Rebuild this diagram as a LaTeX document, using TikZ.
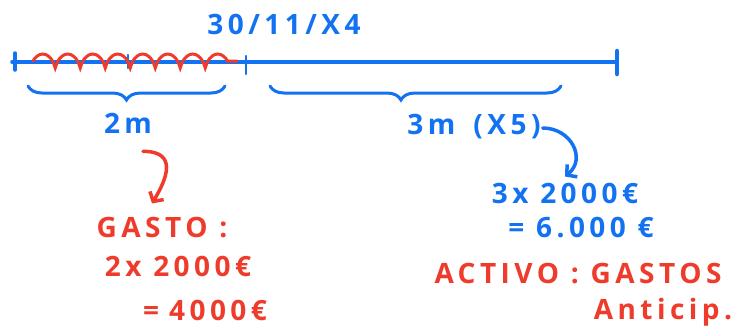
\documentclass[tikz,border=0pt]{standalone}
\usepackage{fontspec}
\newfontfamily\handfont[LetterSpace=16]{Open Sans}
\usetikzlibrary{arrows.meta,positioning,decorations.pathreplacing,decorations.pathmorphing}
\definecolor{InkBlue}{HTML}{1272F2}
\definecolor{InkRed}{HTML}{EE3B2B}

\tikzset{
  blueink/.style={InkBlue,line width=3.5pt,line cap=round},
  redink/.style={InkRed,line width=3.5pt,line cap=round},
  handtext/.style={inner sep=0pt,font=\handfont\bfseries\fontsize{28}{32}\selectfont},
  bracedown/.style={blueink,line width=3pt,decorate,decoration={brace,mirror,amplitude=14pt,aspect=#1}},
}

\begin{document}
\begin{tikzpicture}[x=1pt,y=-1pt]
\useasboundingbox (0,0) rectangle (752,333);
% time line
\coordinate (start) at (12,62);
\coordinate (t0) at (15,62);
\coordinate (t1) at (128,62);
\coordinate (t2) at (246,62);
\coordinate (t3) at (617,62);
\draw[blueink] (start) -- (t3);
\draw[blueink] ([yshift=9pt]t0) -- ([yshift=-8pt]t0);
\draw[blueink,line width=2.5pt] ([yshift=7pt]t1) -- ([yshift=-6pt]t1);
\draw[blueink,line width=2.5pt] ([yshift=6pt]t2) -- ([yshift=-12pt]t2);
\draw[blueink,line width=4.5pt] ([yshift=11pt]t3) -- ([yshift=-12pt]t3);
% spent part
\draw[redink,line width=3pt,decorate,decoration={coil,amplitude=7pt,segment length=25pt}] (33,61) -- (237,61);
% braces
\draw[bracedown=0.5] (28,86) -- (225,86);
\draw[bracedown=0.45] (270,86) -- (561,86);
% labels
\node[handtext,text=InkBlue] (fecha) at (284,24) {30/11/X4};
\node[handtext,text=InkBlue] (dos) at (128,123) {2m};
\node[handtext,text=InkBlue] (tres) at (474,127) {3m\hspace{18pt}(X5)};
\node[handtext,text=InkBlue] (calc3) at (565,193) {3x 2000€};
\node[handtext,text=InkBlue] (res3) at (581,228) {= 6.000 €};
\node[handtext,text=InkRed] (gasto) at (162,228) {GASTO :};
\node[handtext,text=InkRed] (calc2) at (178,266) {2x 2000€};
\node[handtext,text=InkRed] (res2) at (205,310) {=\hspace{10pt}4000€};
\node[handtext,text=InkRed] (activo) at (578,274) {ACTIVO : GASTOS};
\node[handtext,text=InkRed] (antic) at (663,312) {Anticip.};
% arrows
\draw[redink,-{Straight Barb[length=7pt,width=16pt]}] ([xshift=15pt,yshift=-18pt]dos.south) .. controls +(35,0) and +(15,-25) .. ([xshift=-10pt,yshift=14pt]gasto.north);
\draw[blueink,-{Straight Barb[length=7pt,width=16pt]}] ([xshift=2pt,yshift=-1pt]tres.east) .. controls +(28,0) and +(22,-18) .. ([xshift=0pt,yshift=6pt]calc3.north);
\end{tikzpicture}
\end{document}
